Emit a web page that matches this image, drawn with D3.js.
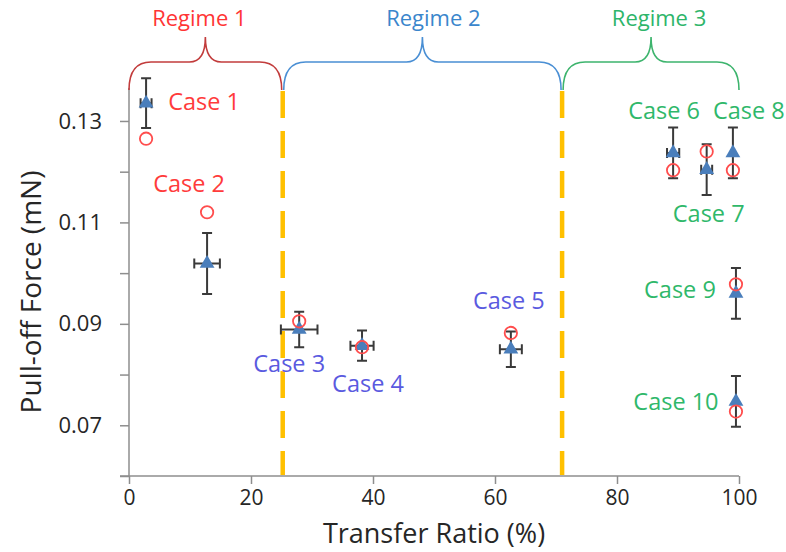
<!DOCTYPE html>
<html>
<head>
<meta charset="utf-8">
<script src="https://cdn.jsdelivr.net/npm/d3@7/dist/d3.min.js"></script>
<style>
  html, body { margin: 0; padding: 0; background: #fff; }
  svg { display: block; font-family: "Open Sans", "DejaVu Sans", sans-serif; }
</style>
</head>
<body>
<svg id="chart" width="786" height="552"></svg>
<script>
// Pull-off force against transfer ratio for ten cases
const cases = ["Case 1", "Case 2", "Case 3", "Case 4", "Case 5",
               "Case 6", "Case 7", "Case 8", "Case 9", "Case 10"];
const caseRegime = [0, 0, 1, 1, 1, 2, 2, 2, 2, 2];
const transferRatio = [2.8, 12.8, 27.9, 38.2, 62.6, 89.2, 94.7, 99.0, 99.5, 99.5];
const ratioErr = [0.9, 2.1, 3.0, 1.9, 1.8, 1.0, 0.9, 0, 0, 0];
const measuredForce = [0.1335, 0.1019, 0.0889, 0.0857, 0.0850, 0.1237, 0.1204, 0.1237, 0.0960, 0.0747];
const forceErr = [0.0049, 0.0060, 0.0035, 0.0030, 0.0035, 0.0050, 0.0050, 0.0050, 0.0050, 0.0050];
const modelForce = [0.1265, 0.1120, 0.0905, 0.0854, 0.0882, 0.1203, 0.1240, 0.1203, 0.0978, 0.0727];

const regimeNames = ["Regime 1", "Regime 2", "Regime 3"];
const regimeBounds = [0, 25.2, 71, 100];

const xTicks = [0, 20, 40, 60, 80, 100];
const yTicks = [0.06, 0.07, 0.08, 0.09, 0.10, 0.11, 0.12, 0.13];
const yLabelled = [0.07, 0.09, 0.11, 0.13];

// layout and styling
const regimeColors = ["#c23c3c", "#4a8fd4", "#3db46d"];
const regimeTextColors = ["#ff3535", "#3a86cc", "#2eb56a"];
const caseTextColors = ["#ff3b3b", "#5a5ae0", "#2fb86a"];
const caseLabelOffset = [[58, 7], [-18, -71], [-10, 43], [6, 46], [-2, -40],
                         [-9, -34], [2, 52], [16, -34], [-56, 5], [-60, 9]];
const regimeLabelShift = [-6, 11, 8];

const svg = d3.select("#chart");
const x = d3.scaleLinear().domain([0, 100]).range([129, 739]);
const y = d3.scaleLinear().domain([0.06, 0.1365]).range([476, 88]);

const axisColor = "#8e8e8e";
const textColor = "#262626";

// y axis
const yAxis = svg.append("g")
  .attr("transform", `translate(${x(0)},0)`)
  .call(d3.axisLeft(y).tickValues(yTicks).tickSize(9).tickPadding(18)
    .tickFormat(d => yLabelled.some(v => Math.abs(v - d) < 1e-9) ? d3.format(".2f")(d) : ""));
yAxis.select(".domain").attr("stroke", axisColor).attr("stroke-width", 1.5)
  .attr("d", `M0,${y(0.06)}V${y.range()[1]}`);
yAxis.selectAll(".tick line").attr("stroke", axisColor).attr("stroke-width", 1.5);
yAxis.selectAll(".tick text").attr("fill", textColor)
  .style("font-size", "22px").style("font-family", "'Open Sans', sans-serif");

// x axis
const xAxis = svg.append("g")
  .attr("transform", `translate(0,${y(0.06)})`)
  .call(d3.axisBottom(x).tickValues(xTicks).tickSize(8).tickPadding(6));
xAxis.select(".domain").attr("stroke", axisColor).attr("stroke-width", 1.5)
  .attr("d", `M${x(0) - 9},0H${x(100)}`);
xAxis.selectAll(".tick line").attr("stroke", axisColor).attr("stroke-width", 1.5);
xAxis.selectAll(".tick text").attr("fill", textColor)
  .style("font-size", "21px").style("font-family", "'Open Sans', sans-serif");

// axis titles
svg.append("text")
  .attr("x", d3.mean(x.range())).attr("y", 543)
  .attr("text-anchor", "middle").attr("fill", textColor)
  .style("font-size", "27px")
  .text("Transfer Ratio (%)");
svg.append("text")
  .attr("transform", `translate(41,${(y(0.06) + y.range()[1]) / 2 + 10}) rotate(-90)`)
  .attr("text-anchor", "middle").attr("fill", textColor)
  .style("font-size", "28px")
  .text("Pull-off Force (mN)");

// regime boundaries
svg.append("g").selectAll("line")
  .data(regimeBounds.slice(1, -1))
  .join("line")
  .attr("x1", d => x(d)).attr("x2", d => x(d))
  .attr("y1", y.range()[1] + 3).attr("y2", y(0.06) - 1)
  .attr("stroke", "#ffc000").attr("stroke-width", 4.5)
  .attr("stroke-dasharray", "27,13");

// regime braces
const yEnd = 90, yBar = 62, yTip = 37, rEnd = 22, rTip = 16;
function bracePath(x0, x1) {
  const xm = (x0 + x1) / 2;
  return `M${x0},${yEnd}Q${x0},${yBar} ${x0 + rEnd},${yBar}` +
         `L${xm - rTip},${yBar}Q${xm},${yBar} ${xm},${yTip}` +
         `Q${xm},${yBar} ${xm + rTip},${yBar}` +
         `L${x1 - rEnd},${yBar}Q${x1},${yBar} ${x1},${yEnd}`;
}
const regimes = regimeNames.map((name, i) => ({
  name, i,
  x0: x(regimeBounds[i]) + (i === 0 ? 0 : 1),
  x1: x(regimeBounds[i + 1]) - (i === regimeNames.length - 1 ? 0 : 1)
}));
svg.append("g").selectAll("path")
  .data(regimes)
  .join("path")
  .attr("d", d => bracePath(d.x0, d.x1))
  .attr("fill", "none")
  .attr("stroke", d => regimeColors[d.i])
  .attr("stroke-width", 1.6);
svg.append("g").selectAll("text")
  .data(regimes)
  .join("text")
  .attr("x", d => (d.x0 + d.x1) / 2 + regimeLabelShift[d.i])
  .attr("y", 26)
  .attr("text-anchor", "middle")
  .attr("fill", d => regimeTextColors[d.i])
  .style("font-size", "22px")
  .text(d => d.name);

// points
const pts = cases.map((name, i) => ({
  name, i, r: transferRatio[i], rErr: ratioErr[i],
  f: measuredForce[i], fErr: forceErr[i], m: modelForce[i], regime: caseRegime[i]
}));

const errColor = "#3a3a3a", cap = 5;
const err = svg.append("g").attr("stroke", errColor).attr("stroke-width", 2).attr("fill", "none");
pts.forEach(p => {
  const cx = x(p.r), cy = y(p.f);
  const yt = y(p.f + p.fErr), yb = y(p.f - p.fErr);
  err.append("path").attr("d",
    `M${cx},${yt}V${yb}M${cx - cap},${yt}H${cx + cap}M${cx - cap},${yb}H${cx + cap}`);
  if (p.rErr > 0) {
    const xl = x(p.r - p.rErr), xr = x(p.r + p.rErr);
    err.append("path").attr("d",
      `M${xl},${cy}H${xr}M${xl},${cy - cap}V${cy + cap}M${xr},${cy - cap}V${cy + cap}`);
  }
});

svg.append("g").selectAll("path")
  .data(pts)
  .join("path")
  .attr("transform", d => `translate(${x(d.r)},${y(d.f)})`)
  .attr("d", d3.symbol(d3.symbolTriangle, 95))
  .attr("fill", "#4a7ebb");

svg.append("g").selectAll("circle")
  .data(pts)
  .join("circle")
  .attr("cx", d => x(d.r)).attr("cy", d => y(d.m)).attr("r", 6.2)
  .attr("fill", "none").attr("stroke", "#ff4d4d").attr("stroke-width", 1.8);

// case labels
svg.append("g").selectAll("text")
  .data(pts)
  .join("text")
  .attr("x", d => x(d.r) + caseLabelOffset[d.i][0])
  .attr("y", d => y(d.f) + caseLabelOffset[d.i][1])
  .attr("text-anchor", "middle")
  .attr("fill", d => caseTextColors[d.regime])
  .style("font-size", "23.5px")
  .text(d => d.name);
</script>
</body>
</html>
